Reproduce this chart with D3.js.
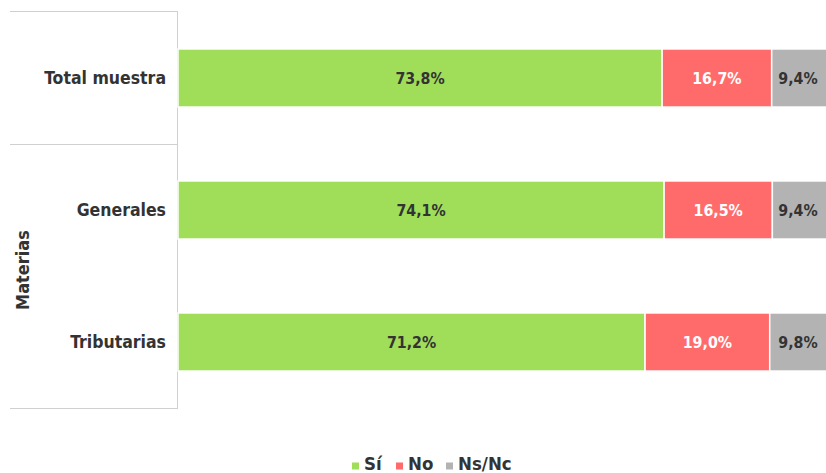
<!DOCTYPE html>
<html>
<head>
<meta charset="utf-8">
<title>Materias</title>
<script src="https://d3js.org/d3.v7.min.js"></script>
<style>
body { margin: 0; background: #fff; }
text { font-family: "DejaVu Sans Condensed", "DejaVu Sans", sans-serif; font-weight: bold; }
</style>
</head>
<body>
<div id="chart"></div>
<script>
var categories = ["Total muestra", "Generales", "Tributarias"];
var series = ["Sí", "No", "Ns/Nc"];
var si = [73.8, 74.1, 71.2];
var no = [16.7, 16.5, 19.0];
var nsnc = [9.4, 9.4, 9.8];
var colors = ["#a0de5a", "#ff6b6b", "#b3b3b3"];
var labelColors = ["#333333", "#ffffff", "#333333"];

var w = 826, h = 473;
var plotLeft = 178, plotTop = 12, plotBottom = 408;

var rows = categories.map(function(c, i) {
  var vals = [si[i], no[i], nsnc[i]], acc = 0;
  return { cat: c, segs: vals.map(function(v, k) {
    var s = { k: k, x0: acc, x1: acc + v, v: v, cat: c }; acc += v; return s; }) };
});

var x = d3.scaleLinear().domain([0, 100]).range([plotLeft, 834]);
var y = d3.scaleBand().domain(categories).range([plotTop, plotBottom]).paddingInner(0.56).paddingOuter(0.28);

var svg = d3.select("#chart").append("svg")
  .attr("width", w).attr("height", h);

// frame lines of the category area
var grid = "#d0d0d0";
svg.append("line").attr("x1", 10).attr("x2", plotLeft).attr("y1", plotTop - 0.5).attr("y2", plotTop - 0.5).attr("stroke", grid);
svg.append("line").attr("x1", 10).attr("x2", plotLeft).attr("y1", 144.5).attr("y2", 144.5).attr("stroke", grid);
svg.append("line").attr("x1", 10).attr("x2", plotLeft).attr("y1", plotBottom + 0.5).attr("y2", plotBottom + 0.5).attr("stroke", grid);
svg.append("line").attr("x1", plotLeft - 0.5).attr("x2", plotLeft - 0.5).attr("y1", plotTop - 1).attr("y2", plotBottom + 1).attr("stroke", grid);

var g = svg.selectAll("g.row").data(rows).enter().append("g").attr("class", "row");

g.selectAll("rect").data(function(d) { return d.segs; })
  .enter().append("rect")
  .attr("x", function(s) { return x(s.x0); })
  .attr("width", function(s) { return x(s.x1) - x(s.x0); })
  .attr("y", function(s) { return y(s.cat); })
  .attr("height", y.bandwidth())
  .attr("fill", function(s) { return colors[s.k]; })
  .attr("stroke", "#fff").attr("stroke-width", 1.5);

g.selectAll("text.val").data(function(d) { return d.segs; })
  .enter().append("text").attr("class", "val")
  .attr("x", function(s) { return Math.min((x(s.x0) + x(s.x1)) / 2, 798); })
  .attr("y", function(s) { return y(s.cat) + y.bandwidth() / 2; })
  .attr("dy", "0.35em")
  .attr("text-anchor", "middle")
  .attr("font-size", 15.8)
  .attr("fill", function(s) { return labelColors[s.k]; })
  .text(function(s) { return s.v.toFixed(1).replace(".", ",") + "%"; });

svg.selectAll("text.cat").data(categories).enter().append("text").attr("class", "cat")
  .attr("x", 166).attr("y", function(d) { return y(d) + y.bandwidth() / 2; })
  .attr("dy", "0.35em").attr("text-anchor", "end")
  .attr("font-size", 17.5).attr("fill", "#333")
  .text(function(d) { return d; });

svg.append("text")
  .attr("transform", "translate(29,270) rotate(-90)")
  .attr("text-anchor", "middle").attr("font-size", 18).attr("fill", "#333")
  .text("Materias");

// legend
var lx = [352, 396, 446];
var lg = svg.selectAll("g.leg").data(series).enter().append("g").attr("class", "leg")
  .attr("transform", function(d, i) { return "translate(" + lx[i] + ",470)"; });
lg.append("rect").attr("x", 0).attr("y", -7.5).attr("width", 7).attr("height", 7)
  .attr("fill", function(d, i) { return colors[i]; });
lg.append("text").attr("x", 12).attr("font-size", 18.5).attr("fill", "#333")
  .text(function(d) { return d; });
</script>
</body>
</html>
